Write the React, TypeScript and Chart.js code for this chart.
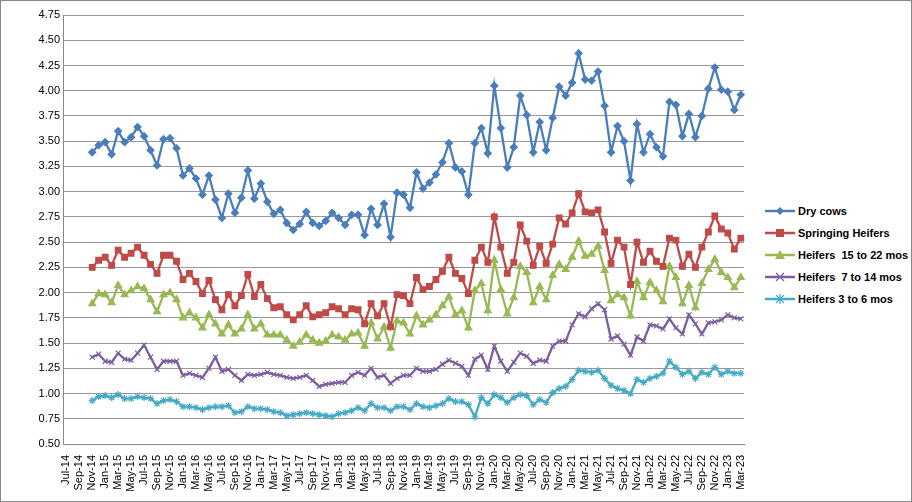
import React, { useEffect, useRef } from "react";
import { Chart, registerables } from "chart.js";
Chart.register(...registerables);

const monthNames = ["Jan","Feb","Mar","Apr","May","Jun","Jul","Aug","Sep","Oct","Nov","Dec"];
const categories: string[] = [];
for (let i = 0; i < 105; i++) {
  const m = (6 + i) % 12;
  const y = 14 + Math.floor((6 + i) / 12);
  categories.push(`${monthNames[m]}-${y}`);
}
const lead = [null, null, null, null];

const dryCows = [3.39,3.46,3.49,3.37,3.60,3.49,3.54,3.64,3.55,3.41,3.26,3.52,3.53,3.43,3.16,3.23,3.13,2.97,3.16,2.92,2.74,2.98,2.79,2.94,3.21,2.93,3.08,2.90,2.78,2.82,2.69,2.62,2.68,2.80,2.69,
2.66,2.71,2.79,2.74,2.67,2.77,2.77,2.57,2.83,2.67,2.88,2.55,2.99,2.97,2.84,3.19,3.03,3.09,3.17,3.29,3.48,3.24,3.20,2.97,3.48,3.63,3.38,
4.05,3.63,3.24,3.44,3.95,3.76,3.39,3.69,3.41,3.73,4.04,3.95,4.08,4.37,4.11,4.10,4.19,3.85,3.39,3.65,3.50,3.11,3.67,3.39,3.57,3.44,3.35,3.89,3.86,3.55,3.77,3.54,3.75,4.02,4.23,4.01,3.99,3.81,3.96];
const springing = [2.25,2.32,2.35,2.27,2.42,2.35,2.39,2.45,2.37,2.28,2.19,2.37,2.37,2.31,2.13,2.19,2.11,1.99,2.12,1.93,1.83,1.98,1.87,1.97,2.18,1.96,2.08,1.94,1.85,1.86,1.78,1.73,1.78,1.87,1.76,1.78,1.80,1.86,1.84,1.78,1.84,1.83,1.69,1.89,1.77,1.89,1.66,1.98,1.97,1.89,
2.15,2.03,2.06,2.13,2.21,2.35,2.19,2.14,1.99,2.32,2.45,2.30,2.75,2.45,2.19,2.30,2.67,
2.51,2.27,2.46,2.29,2.48,2.74,2.68,2.79,2.98,2.80,2.79,2.82,2.60,2.29,2.52,2.45,2.08,2.50,2.30,2.41,2.31,2.26,2.54,2.52,2.26,2.38,2.25,2.45,2.60,2.76,2.63,2.59,2.43,2.54];
const heifers15 = [1.89,1.99,1.98,1.90,2.07,1.98,2.02,2.06,2.04,1.93,1.81,1.98,2.00,1.93,1.75,1.80,1.75,1.65,1.78,1.69,1.59,1.68,1.59,1.64,1.78,1.64,1.69,1.58,1.58,1.58,1.53,1.47,1.51,1.58,1.53,1.50,1.52,1.58,1.56,1.53,1.59,1.60,1.47,1.70,1.54,1.66,1.45,1.72,1.70,1.59,
1.77,1.68,1.73,1.78,1.87,1.96,1.78,1.82,1.65,2.02,2.09,1.82,2.32,2.03,1.79,1.95,2.26,
2.20,1.90,2.06,1.93,2.17,2.28,2.23,2.35,2.51,2.36,2.38,2.46,2.22,1.92,1.98,1.95,1.77,2.11,1.95,2.10,2.02,1.91,2.26,2.15,1.89,2.07,1.85,2.09,2.23,2.33,2.20,2.15,2.05,2.15];
const heifers7 = [1.36,1.39,1.32,1.31,1.40,1.34,1.33,1.40,1.48,1.36,1.24,1.32,1.32,1.32,1.18,1.20,1.18,1.16,1.25,1.36,1.22,1.24,1.18,1.13,1.19,1.18,1.19,1.21,1.19,1.18,1.16,1.15,1.16,1.18,1.13,1.07,1.09,1.10,1.11,1.11,1.18,1.21,1.18,1.25,1.16,1.18,1.10,1.15,1.18,1.18,
1.25,1.22,1.22,1.24,1.29,1.33,1.30,1.27,1.18,1.34,1.38,1.24,1.47,1.32,1.22,1.31,1.40,1.37,1.30,1.33,1.32,1.47,1.52,1.52,1.68,1.79,1.76,1.84,1.89,1.83,1.54,1.57,1.49,1.38,1.56,1.52,1.68,1.67,1.64,1.74,1.65,1.59,1.78,1.69,1.59,1.70,1.71,1.73,1.78,1.75,1.74];
const heifers3 = [0.93,0.97,0.98,0.96,0.99,0.95,0.95,0.97,0.96,0.95,0.90,0.93,0.94,0.92,0.87,0.87,0.86,0.84,0.86,0.87,0.87,0.88,0.81,0.82,0.87,0.85,0.85,0.84,0.82,0.81,0.78,0.79,0.80,0.81,0.80,0.79,0.78,0.77,0.80,0.81,0.83,0.86,0.83,0.90,0.86,0.86,0.83,0.87,0.87,0.84,
0.90,0.87,0.86,0.88,0.90,0.95,0.92,0.92,0.89,0.77,0.96,0.90,0.99,0.96,0.91,0.96,0.99,0.98,0.89,0.94,0.91,1.01,1.05,1.07,1.14,1.23,1.22,1.21,1.23,1.15,1.08,1.05,1.03,1.00,1.14,1.11,1.15,1.17,1.20,1.32,1.26,1.19,1.22,1.15,1.21,1.19,1.26,1.19,1.22,1.20,1.20];

const series = [
  { label: "Dry cows", data: dryCows, color: "#4A7EBB", style: "rectRot", r: 3.5 },
  { label: "Springing Heifers", data: springing, color: "#BE4B48", style: "rect", r: 4 },
  { label: "Heifers  15 to 22 mos", data: heifers15, color: "#98B954", style: "triangle", r: 4 },
  { label: "Heifers  7 to 14 mos", data: heifers7, color: "#7D5FA0", style: "crossRot", r: 3.5 },
  { label: "Heifers 3 to 6 mos", data: heifers3, color: "#46AAC5", style: "star", r: 3.5 },
];

function Marker({ style, color }: { style: string; color: string }) {
  let shape: React.ReactNode = null;
  if (style === "rectRot") shape = <polygon points="15,1 19,5 15,9 11,5" fill={color} />;
  else if (style === "rect") shape = <rect x="11" y="1" width="8" height="8" fill={color} />;
  else if (style === "triangle") shape = <polygon points="15,0 20,9 10,9" fill={color} />;
  else if (style === "crossRot") shape = <path d="M11,1 L19,9 M19,1 L11,9" stroke={color} strokeWidth="1.3" />;
  else shape = <path d="M11,1 L19,9 M19,1 L11,9 M15,0 L15,10" stroke={color} strokeWidth="1.3" />;
  return (
    <svg width="30" height="10" style={{ marginRight: 3 }}>
      <line x1="0" y1="5" x2="30" y2="5" stroke={color} strokeWidth="2.5" />
      {shape}
    </svg>
  );
}

export default function App() {
  const ref = useRef<HTMLCanvasElement>(null);
  useEffect(() => {
    const chart = new Chart(ref.current!, {
      type: "line",
      data: {
        labels: categories,
        datasets: series.map((s) => ({
          label: s.label,
          data: [...lead, ...s.data],
          borderColor: s.color,
          backgroundColor: s.color,
          pointStyle: s.style as any,
          pointRadius: s.r,
          pointBorderWidth: 1.2,
          borderWidth: 2.3,
          tension: 0,
        })),
      },
      options: {
        animation: false,
        responsive: false,
        maintainAspectRatio: false,
        layout: { padding: { top: 14, left: 8, right: 4, bottom: 2 } },
        plugins: { legend: { display: false }, tooltip: { enabled: false } },
        scales: {
          x: {
            offset: true,
            grid: { display: false, drawTicks: true },
            border: { color: "#888" },
            ticks: {
              autoSkip: false,
              maxRotation: 90,
              minRotation: 90,
              color: "#000",
              font: { family: "Liberation Sans", size: 11 },
              callback: (_v: any, i: number) => (i % 2 === 0 ? categories[i] : ""),
            },
            afterFit: (s: any) => { s.height = 55; },
          },
          y: {
            min: 0.5,
            max: 4.75,
            ticks: {
              stepSize: 0.25,
              color: "#000",
              font: { family: "Liberation Sans", size: 11 },
              callback: (v: any) => Number(v).toFixed(2),
            },
            grid: { color: "#999", drawTicks: false },
            border: { color: "#888" },
            afterFit: (s: any) => { s.width = 54; },
          },
        },
      },
    });
    return () => chart.destroy();
  }, []);
  return (
    <div style={{ position: "fixed", left: 0, top: 0, width: 912, height: 502, background: "#fff", boxSizing: "border-box", border: "1px solid #888" }}>
      <canvas ref={ref} width={756} height={500} style={{ position: "absolute", left: 0, top: 0 }} />
      <div style={{ position: "absolute", left: 764, top: 199, fontFamily: "Liberation Sans", fontWeight: "bold", fontSize: 11 }}>
        {series.map((s) => (
          <div key={s.label} style={{ display: "flex", alignItems: "center", height: 22, whiteSpace: "pre" }}>
            <Marker style={s.style} color={s.color} />
            {s.label}
          </div>
        ))}
      </div>
    </div>
  );
}
